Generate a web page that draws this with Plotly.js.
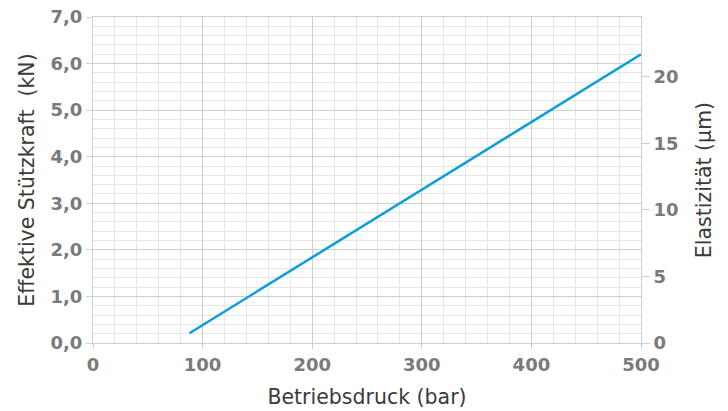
<!DOCTYPE html>
<html>
<head>
<meta charset="utf-8">
<script src="https://cdn.plot.ly/plotly-3.0.1.min.js"></script>
<style>html,body{margin:0;padding:0;background:#fff;}#chart{width:728px;height:411px;}</style>
</head>
<body>
<div id="chart"></div>
<script>
// Data
const pressureBar = [88, 500];          // Betriebsdruck (bar)
const supportForceKN = [0.21, 6.2];     // Effektive Stützkraft (kN)
const xTickVals = [0, 100, 200, 300, 400, 500];
const yTickVals = [0, 1, 2, 3, 4, 5, 6, 7];
const y2TickVals = [0, 5, 10, 15, 20];

const tickFont = {family: 'DejaVu Sans, sans-serif', size: 18, color: '#7a7a7a', weight: 'bold'};
const titleFont = {family: 'DejaVu Sans, sans-serif', size: 20.5, color: '#3a3a3a'};
const gridMajor = '#cfcfcf';
const gridMinor = '#e6e6e6';

const traces = [
  {
    x: pressureBar, y: supportForceKN, type: 'scatter', mode: 'lines',
    line: {color: '#0a9fd8', width: 2.5}, showlegend: false, hoverinfo: 'skip'
  },
  {
    x: [], y: [], yaxis: 'y2', type: 'scatter', mode: 'lines',
    showlegend: false, hoverinfo: 'skip'
  }
];

const layout = {
  width: 728, height: 411,
  margin: {l: 93, r: 87, t: 17, b: 68},
  paper_bgcolor: '#fff', plot_bgcolor: '#fff',
  separators: ',.',
  showlegend: false,
  xaxis: {
    range: [0, 500], tickvals: xTickVals, tickfont: tickFont,
    showgrid: true, gridcolor: gridMajor, gridwidth: 1,
    minor: {dtick: 20, showgrid: true, gridcolor: gridMinor, gridwidth: 1, ticks: ''},
    showline: true, linecolor: gridMajor, linewidth: 1, mirror: true,
    ticks: 'outside', ticklen: 5, tickcolor: gridMajor,
    zeroline: false,
    title: {text: 'Betriebsdruck (bar)', font: titleFont, standoff: 16}
  },
  yaxis: {
    range: [0, 7], tickvals: yTickVals, tickformat: '.1f', tickfont: tickFont,
    showgrid: true, gridcolor: gridMajor, gridwidth: 1,
    minor: {dtick: 0.2, showgrid: true, gridcolor: gridMinor, gridwidth: 1, ticks: ''},
    showline: true, linecolor: gridMajor, linewidth: 1, mirror: true,
    ticks: 'outside', ticklen: 6, tickcolor: gridMajor,
    zeroline: false,
    title: {text: 'Effektive Stützkraft  (kN)', font: titleFont, standoff: 10}
  },
  yaxis2: {
    overlaying: 'y', side: 'right', range: [0, 24.5],
    tickvals: y2TickVals, tickfont: tickFont,
    showgrid: false, zeroline: false, showline: false,
    ticks: 'outside', ticklen: 8, tickcolor: gridMajor,
    title: {text: 'Elastizität (µm)', font: titleFont, standoff: 18}
  }
};

Plotly.newPlot('chart', traces, layout, {staticPlot: true, displayModeBar: false});
</script>
</body>
</html>
